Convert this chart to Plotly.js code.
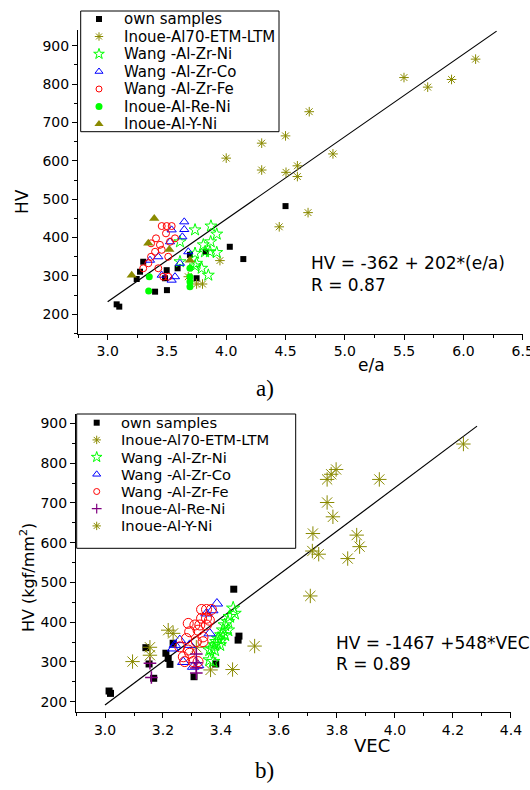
<!DOCTYPE html>
<html><head><meta charset="utf-8">
<script src="https://cdn.plot.ly/plotly-3.0.1.min.js"></script>
<style>html,body{margin:0;padding:0;background:#fff}#chart{width:530px;height:790px}</style>
</head><body><div id="chart"></div>
<script>
// ---------------- DATA ----------------
const seriesNames = ['own samples','Inoue-Al70-ETM-LTM','Wang -Al-Zr-Ni','Wang -Al-Zr-Co','Wang -Al-Zr-Fe','Inoue-Al-Re-Ni','Inoue-Al-Y-Ni'];

// (a) HV vs e/a
const ownEA_x = [3.076,3.098,3.245,3.273,3.30,3.40,3.50,3.498,3.484,3.59,3.694,3.75,3.827,4.03,4.144,4.50];
const ownEA_y = [226,220,292,311,337,259,263,315,294,320,355,294,363,376,344,482];
const al70EA_x = [6.103,5.90,5.699,5.499,4.70,4.50,4.299,4.0,4.299,4.504,4.60,4.60,4.90,4.69,4.447,3.947,3.75,3.80,3.68];
const al70EA_y = [865,812,792,817,728,665,646,607,576,570,587,559,618,465,428,340,279,279,298];
const zrNiEA_x = [3.737,3.871,3.92,3.869,3.807,3.863,3.92,3.821,3.737,3.849,3.793,3.61,3.61,3.75,3.737];
const zrNiEA_y = [420,430,409,389,381,363,361,363,326,302,320,389,337,333,359];
const zrCoEA_x = [3.646,3.646,3.63,3.54,3.427,3.357,3.61,3.568,3.54,3.68,3.456,3.526];
const zrCoEA_y = [441,421,402,420,350,341,333,298,289,363,302,389];
const zrFeEA_x = [3.456,3.498,3.54,3.492,3.568,3.526,3.408,3.441,3.366,3.40,3.456,3.511,3.366,3.343,3.30,3.427,3.469,3.511];
const zrFeEA_y = [430,430,430,411,398,389,398,381,385,363,368,350,350,333,320,320,298,298];
const reNiEA_x = [3.694,3.694,3.694,3.694,3.351,3.346];
const reNiEA_y = [320,298,285,272,298,261];
const yNiEA_x = [3.393,3.343,3.52,3.694,3.203];
const yNiEA_y = [450,385,369,341,302];
const fitEA_x = [3.0,6.28];
const fitEA_y = [233,938];

// (b) HV vs VEC
const ownVEC_x = [3.014,3.019,3.141,3.152,3.168,3.21,3.218,3.224,3.235,3.307,3.382,3.444,3.462,3.459];
const ownVEC_y = [227,221,336,295,259,322,309,294,347,263,295,483,365,355];
const al70VEC_x = [4.236,3.946,3.797,3.78,3.766,3.766,3.786,3.717,3.715,3.737,3.868,3.878,3.837,3.708,3.516,3.44,3.364,3.315];
const al70VEC_y = [848,759,784,772,759,701,665,623,579,571,619,590,560,466,340,281,280,337];
const zrNiVEC_x = [3.442,3.447,3.43,3.424,3.413,3.407,3.401,3.39,3.384,3.378,3.367,3.361,3.424,3.413,3.401,3.396,3.378,3.361,3.373];
const zrNiVEC_y = [435,422,414,401,393,380,368,359,351,343,334,330,380,368,355,343,330,305,301];
const zrCoVEC_x = [3.386,3.35,3.37,3.361,3.258,3.241,3.235,3.292,3.321,3.304,3.27];
const zrCoVEC_y = [447,422,430,372,355,343,334,343,292,288,300];
const zrFeVEC_x = [3.333,3.35,3.367,3.333,3.35,3.31,3.327,3.35,3.287,3.292,3.321,3.281,3.315,3.338,3.258,3.287,3.27,3.292,3.275,3.304,3.321,3.338,3.36];
const zrFeVEC_y = [432,432,432,410,410,393,393,393,397,376,380,359,351,351,338,330,313,322,301,301,301,363,405];
const reNiVEC_x = [3.315,3.315,3.315,3.315,3.155,3.16];
const reNiVEC_y = [320,298,285,272,297,261];
const yNiVEC_x = [3.218,3.235,3.155,3.155,3.095];
const yNiVEC_y = [380,372,337,317,301];
const fitVEC_x = [3.0,4.283];
const fitVEC_y = [192,893];

// ---------------- STYLE ----------------
const W = 530, H = 790;
const SANS = 'DejaVu Sans';
const OLIVE = '#8a8a00';
function mk(symbol, color, size, lw){ return {symbol:symbol, color:color, size:size, line:{color:color, width:lw}}; }

const topMarkers = [
  mk('square','#000000',6,0),
  mk('asterisk-open',OLIVE,8,1),
  mk('star-open','#00ff00',9,1),
  mk('triangle-up-open','#0000ff',8,1),
  mk('circle-open','#ff0000',7,1),
  mk('circle','#00ff00',7,0),
  mk('triangle-up',OLIVE,9,0)
];
const botMarkers = [
  mk('square','#000000',7,0),
  mk('asterisk-open',OLIVE,12,1),
  mk('star-open','#00ff00',10,1),
  mk('triangle-up-open','#0000ff',10,1),
  mk('circle-open','#ff0000',10,1),
  mk('cross-thin-open','#800080',9,1.5),
  mk('asterisk-open',OLIVE,12,1)
];
const topLegMarkers = [
  mk('square','#000000',6,0), mk('asterisk-open',OLIVE,7,1), mk('star-open','#00ff00',8,1),
  mk('triangle-up-open','#0000ff',7,1), mk('circle-open','#ff0000',6,1), mk('circle','#00ff00',7,0), mk('triangle-up',OLIVE,8,0)
];
const botLegMarkers = [
  mk('square','#000000',6,0), mk('asterisk-open',OLIVE,7,1), mk('star-open','#00ff00',8,1),
  mk('triangle-up-open','#0000ff',7,1), mk('circle-open','#ff0000',6,1), mk('cross-thin-open','#800080',7,1.2), mk('asterisk-open',OLIVE,7,1)
];

const topX = [ownEA_x,al70EA_x,zrNiEA_x,zrCoEA_x,zrFeEA_x,reNiEA_x,yNiEA_x];
const topY = [ownEA_y,al70EA_y,zrNiEA_y,zrCoEA_y,zrFeEA_y,reNiEA_y,yNiEA_y];
const botX = [ownVEC_x,al70VEC_x,zrNiVEC_x,zrCoVEC_x,zrFeVEC_x,reNiVEC_x,yNiVEC_x];
const botY = [ownVEC_y,al70VEC_y,zrNiVEC_y,zrCoVEC_y,zrFeVEC_y,reNiVEC_y,yNiVEC_y];

const traces = [];
traces.push({x:fitEA_x, y:fitEA_y, mode:'lines', line:{color:'#000', width:1.2}, xaxis:'x', yaxis:'y', showlegend:false, hoverinfo:'skip'});
traces.push({x:fitVEC_x, y:fitVEC_y, mode:'lines', line:{color:'#000', width:1.2}, xaxis:'x2', yaxis:'y2', showlegend:false, hoverinfo:'skip'});
for (let i=0;i<seriesNames.length;i++){
  traces.push({x:topX[i], y:topY[i], mode:'markers', name:seriesNames[i], marker:topMarkers[i], xaxis:'x', yaxis:'y', showlegend:false, cliponaxis:false});
}
for (let i=0;i<seriesNames.length;i++){
  traces.push({x:botX[i], y:botY[i], mode:'markers', name:seriesNames[i], marker:botMarkers[i], xaxis:'x2', yaxis:'y2', showlegend:false, cliponaxis:false});
}

// legends drawn manually (pixel overlay axis)
const legTop = {left:80.7, right:279, top:11, bottom:131.7, mx:99, tx:121.7, row0:19, step:17.5, fs:15};
const legBot = {left:76.7, right:295.7, top:414, bottom:548.3, mx:96.7, tx:119.3, row0:422.7, step:17.2, fs:14.7};
const annotations = [];
const shapes = [];
function buildLegend(L, markers){
  shapes.push({type:'rect', xref:'paper', yref:'paper', x0:L.left/W, x1:L.right/W, y0:1-L.bottom/H, y1:1-L.top/H, line:{color:'#000', width:1}, fillcolor:'rgba(0,0,0,0)'});
  for (let i=0;i<seriesNames.length;i++){
    const yy = L.row0 + i*L.step;
    traces.push({x:[L.mx], y:[yy], mode:'markers', marker:markers[i], xaxis:'x3', yaxis:'y3', showlegend:false, cliponaxis:false, hoverinfo:'skip'});
    annotations.push({xref:'paper', yref:'paper', x:L.tx/W, y:1-yy/H, xanchor:'left', yanchor:'middle', showarrow:false, text:seriesNames[i], font:{family:SANS, size:L.fs, color:'#000'}});
  }
}
buildLegend(legTop, topLegMarkers);
buildLegend(legBot, botLegMarkers);

function txt(t, px, py, size, opts){
  return Object.assign({xref:'paper', yref:'paper', x:px/W, y:1-py/H, showarrow:false, text:t, xanchor:'center', yanchor:'middle', font:{family:SANS, size:size, color:'#000'}}, opts||{});
}
annotations.push(txt('HV', 22, 202, 17, {textangle:-90}));
annotations.push(txt('e/a', 371, 365, 17));
annotations.push(txt('a)', 265, 389, 23, {font:{family:'Liberation Serif', size:23, color:'#000'}}));
annotations.push(txt('HV (kgf/mm<sup>2</sup>)', 27, 578, 16, {textangle:-90}));
annotations.push(txt('VEC', 372, 745, 18));
annotations.push(txt('b)', 264, 770, 23, {font:{family:'Liberation Serif', size:23, color:'#000'}}));
annotations.push(txt('HV = -362 + 202*(e/a)', 309, 263, 17, {xanchor:'left'}));
annotations.push(txt('R = 0.87', 309, 285, 17, {xanchor:'left'}));
annotations.push(txt('HV = -1467 +548*VEC', 334, 643, 17, {xanchor:'left'}));
annotations.push(txt('R = 0.89', 334, 664, 17, {xanchor:'left'}));

function axis(extra){
  return Object.assign({showline:true, linecolor:'#000', linewidth:1, mirror:false, showgrid:false, zeroline:false,
    ticks:'outside', ticklen:5, tickwidth:1, tickcolor:'#000', tickfont:{family:SANS, size:14, color:'#000'},
    ticklabeloverflow:'allow', fixedrange:true}, extra);
}

const layout = {
  width:W, height:H,
  margin:{l:0, r:0, t:0, b:0, autoexpand:false},
  paper_bgcolor:'#fff', plot_bgcolor:'rgba(0,0,0,0)',
  showlegend:false,
  xaxis: axis({domain:[78/W, 522.7/W], range:[2.75,6.5001], dtick:0.5, tick0:0, tickformat:'.1f', anchor:'y',
    minor:{dtick:0.25, tick0:0, ticks:'outside', ticklen:3, tickcolor:'#000', showgrid:false}}),
  yaxis: axis({domain:[1-333.5/H, 1-30.35/H], range:[150,940], dtick:100, tick0:0, anchor:'x',
    minor:{dtick:50, tick0:0, ticks:'outside', ticklen:3, tickcolor:'#000', showgrid:false}}),
  xaxis2: axis({domain:[76/W, 511/W], range:[2.9,4.4001], dtick:0.2, tick0:0, tickformat:'.1f', anchor:'y2',
    minor:{dtick:0.1, tick0:0, ticks:'outside', ticklen:3, tickcolor:'#000', showgrid:false}}),
  yaxis2: axis({domain:[1-711.7/H, 1-414.2/H], range:[175,923], dtick:100, tick0:0, anchor:'x2',
    minor:{dtick:50, tick0:0, ticks:'outside', ticklen:3, tickcolor:'#000', showgrid:false}}),
  xaxis3: {domain:[0,1], range:[0,W], visible:false, fixedrange:true, anchor:'y3'},
  yaxis3: {domain:[0,1], range:[H,0], visible:false, fixedrange:true, anchor:'x3'},
  annotations: annotations,
  shapes: shapes
};

Plotly.newPlot('chart', traces, layout, {staticPlot:true, displayModeBar:false});
</script>
</body></html>
